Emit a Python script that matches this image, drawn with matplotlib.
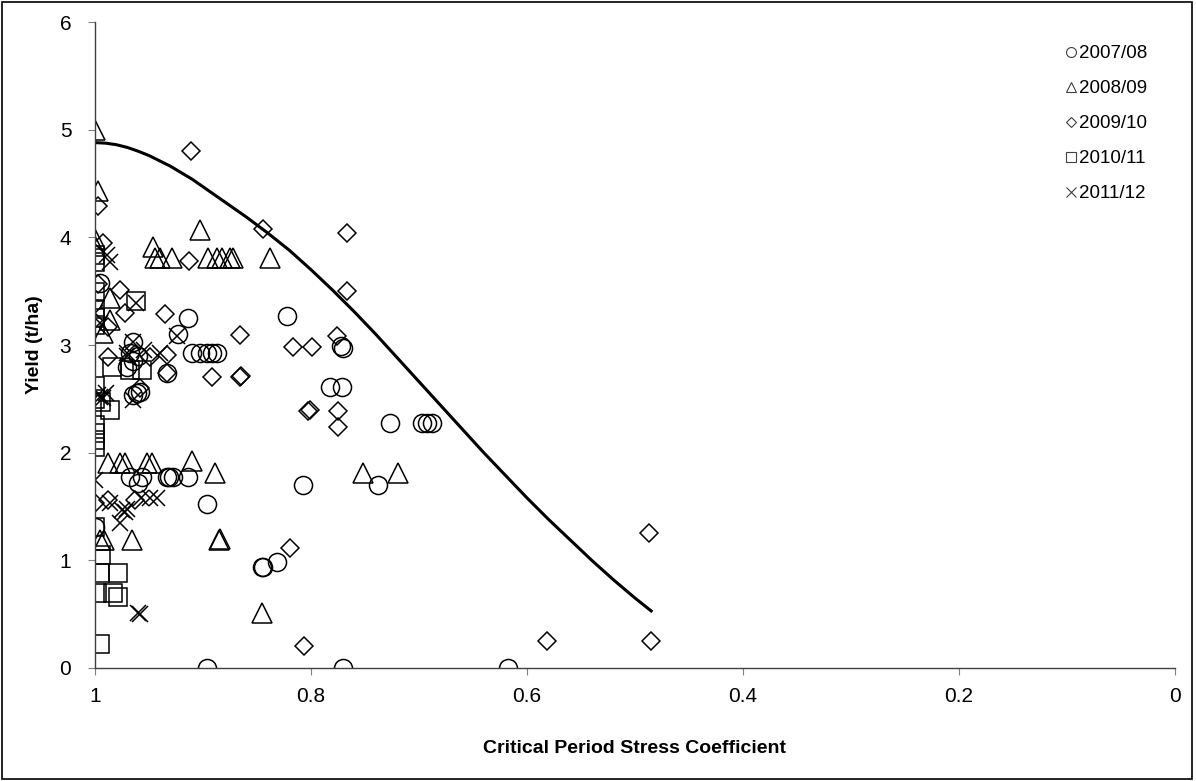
import numpy as np
import matplotlib.pyplot as plt
from matplotlib.patches import Rectangle

plt.rcParams['font.family'] = ['Liberation Sans', 'DejaVu Sans']

# ----------------------------
# Data
# ----------------------------
x_0708 = [0.995, 0.914, 0.923, 0.965, 0.822, 0.770, 0.772, 0.910, 0.903, 0.896, 0.892,
          0.887, 0.968, 0.960, 0.965, 0.970, 0.933, 0.958, 0.965, 0.961, 0.782, 0.771,
          0.727, 0.697, 0.693, 0.688, 0.807, 0.738, 0.968, 0.960, 0.956, 0.933, 0.931,
          0.928, 0.914, 0.896, 1.000, 0.845, 0.844, 0.831, 0.896, 0.770, 0.618]
y_0708 = [3.58, 3.25, 3.10, 3.03, 3.27, 2.97, 2.99, 2.93, 2.93, 2.93, 2.93,
          2.93, 2.93, 2.90, 2.85, 2.80, 2.74, 2.56, 2.54, 2.55, 2.61, 2.61,
          2.28, 2.28, 2.28, 2.28, 1.70, 1.70, 1.77, 1.72, 1.77, 1.77, 1.77,
          1.77, 1.77, 1.52, 1.31, 0.94, 0.94, 0.98, 0.00, 0.00, 0.00]

x_0809 = [1.000, 0.997, 0.903, 1.000, 1.000, 0.946, 0.944, 0.940, 0.929, 0.895, 0.887,
          0.882, 0.875, 0.872, 0.838, 0.986, 0.986, 0.993, 0.988, 0.977, 0.972, 0.952,
          0.947, 0.910, 0.889, 0.752, 0.719, 0.995, 0.992, 0.966, 0.885, 0.884, 0.845]
y_0809 = [5.00, 4.43, 4.07, 3.98, 3.92, 3.91, 3.81, 3.81, 3.81, 3.81, 3.81,
          3.81, 3.81, 3.81, 3.81, 3.44, 3.23, 3.11, 1.90, 1.90, 1.90, 1.90,
          1.90, 1.92, 1.81, 1.81, 1.81, 1.19, 1.19, 1.19, 1.19, 1.20, 0.51]

x_0910 = [0.911, 0.997, 0.844, 0.767, 0.993, 0.913, 0.997, 0.977, 0.767, 0.972, 0.935,
          0.988, 0.866, 0.776, 0.817, 0.799, 0.933, 0.988, 0.949, 0.933, 0.892, 0.866,
          0.865, 0.803, 0.801, 0.775, 0.775, 0.958, 0.819, 0.806, 0.487, 0.581, 0.485,
          1.000, 0.988, 0.963]
y_0910 = [4.80, 4.29, 4.08, 4.04, 3.95, 3.78, 3.57, 3.51, 3.50, 3.30, 3.29,
          3.17, 3.09, 3.08, 2.98, 2.98, 2.91, 2.89, 2.89, 2.74, 2.70, 2.70,
          2.71, 2.39, 2.40, 2.39, 2.24, 2.60, 1.11, 0.20, 1.25, 0.25, 0.25,
          1.53, 1.56, 1.56]

x_1011 = [1.000, 1.000, 1.000, 1.000, 1.000, 1.000, 0.962, 0.984, 0.968, 0.956, 1.000,
          1.000, 0.994, 0.986, 1.000, 1.000, 1.000, 1.000, 1.000, 0.994, 0.995, 0.979,
          0.998, 0.983, 0.979, 0.995]
y_1011 = [3.84, 3.77, 3.49, 3.33, 3.25, 3.19, 3.41, 2.80, 2.77, 2.77, 2.62,
          2.50, 2.47, 2.40, 2.26, 2.18, 2.12, 2.05, 1.31, 1.05, 0.88, 0.88,
          0.70, 0.70, 0.66, 0.22]

x_1112 = [0.989, 0.986, 0.962, 1.000, 0.995, 0.924, 0.965, 0.970, 0.955, 0.940, 0.995,
          0.997, 0.993, 0.990, 0.965, 0.970, 1.000, 0.986, 0.975, 0.972, 0.970, 0.977,
          0.957, 0.949, 0.943, 0.960, 0.958]
y_1112 = [3.84, 3.77, 3.39, 3.30, 3.20, 3.08, 3.03, 2.93, 2.95, 2.93, 2.52,
          2.54, 2.51, 2.55, 2.49, 2.90, 1.75, 1.53, 1.47, 1.45, 1.48, 1.35,
          1.58, 1.58, 1.58, 0.51, 0.50]

# fitted curve
curve_x = [1.00, 0.99, 0.98, 0.97, 0.96, 0.95, 0.94, 0.93, 0.92, 0.91, 0.90, 0.88, 0.86,
           0.84, 0.82, 0.80, 0.78, 0.76, 0.74, 0.72, 0.70, 0.68, 0.66, 0.64, 0.62, 0.60,
           0.58, 0.56, 0.54, 0.52, 0.50, 0.485]
curve_y = [4.88, 4.875, 4.86, 4.835, 4.80, 4.76, 4.71, 4.66, 4.60, 4.54, 4.47, 4.33, 4.19,
           4.04, 3.88, 3.70, 3.51, 3.31, 3.10, 2.88, 2.66, 2.44, 2.22, 2.00, 1.79, 1.58,
           1.38, 1.19, 1.00, 0.82, 0.65, 0.53]

series = [
    ("2007/08", x_0708, y_0708, "o", 13),
    ("2008/09", x_0809, y_0809, "^", 14),
    ("2009/10", x_0910, y_0910, "D", 9.5),
    ("2010/11", x_1011, y_1011, "s", 12.5),
    ("2011/12", x_1112, y_1112, "x", 12),
]

# ----------------------------
# Plot
# ----------------------------
fig = plt.figure(figsize=(11.96, 7.81), dpi=100)
ax = fig.add_axes([0.0794, 0.1447, 0.9030, 0.8271])

for label, xs, ys, mk, ms in series:
    ax.plot(xs, ys, linestyle='none', marker=mk, markersize=ms,
            markerfacecolor='none', markeredgecolor='black',
            markeredgewidth=1.1, label=label)

ax.plot(curve_x, curve_y, '-k', linewidth=2.2, solid_joinstyle='round')

ax.set_xlim(1, 0)
ax.set_ylim(0, 6)
ax.set_xticks([1, 0.8, 0.6, 0.4, 0.2, 0])
ax.set_xticklabels(["1", "0.8", "0.6", "0.4", "0.2", "0"])
ax.set_yticks([0, 1, 2, 3, 4, 5, 6])
ax.tick_params(labelsize=15, length=5, color='#808080', direction='out')
ax.tick_params(axis='x', pad=9)
ax.tick_params(axis='y', pad=12)

for side in ['top', 'right']:
    ax.spines[side].set_visible(False)
for side in ['left', 'bottom']:
    ax.spines[side].set_color('#404040')
    ax.spines[side].set_linewidth(1.0)

ax.set_xlabel("Critical Period Stress Coefficient", fontsize=14,
              fontweight='bold', labelpad=24)
ax.set_ylabel("Yield (t/ha)", fontsize=14, fontweight='bold', labelpad=12)

leg = ax.legend(loc='upper right', bbox_to_anchor=(0.99, 0.99), frameon=False,
                fontsize=13.5, markerscale=0.55, handlelength=0.6,
                handletextpad=0.15, labelspacing=0.95)
for h in leg.legend_handles:
    h.set_markeredgecolor('#404040')
    h.set_markeredgewidth(0.8)

fig.add_artist(Rectangle((0.002, 0.003), 0.995, 0.994, transform=fig.transFigure,
                         fill=False, edgecolor='black', linewidth=1.2))

fig.savefig("out.png", dpi=100)
